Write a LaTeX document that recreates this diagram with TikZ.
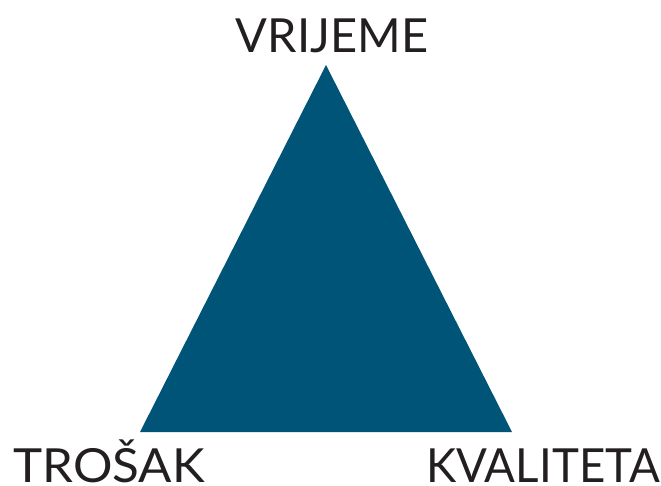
\documentclass[tikz,border=0pt]{standalone}
\usepackage{fontspec}
\setmainfont{Lato}
\definecolor{tri}{RGB}{0,84,120}
\definecolor{txt}{RGB}{35,31,32}
\begin{document}
\begin{tikzpicture}[x=1pt,y=-1pt,
  lbl/.style={font=\fontsize{47}{50}\selectfont, text=txt, inner sep=0pt, text depth=0pt}]
\useasboundingbox (0,0) rectangle (661,485);
\fill[tri] (326,65) coordinate (apex) -- (512,432) coordinate (br) -- (140,432) coordinate (bl) -- cycle;
\node[lbl, anchor=base] (top) at (332,52) {VRIJEME};
\node[lbl, anchor=base west, xscale=1.05] (left) at (13,482) {TROŠAK};
\node[lbl, anchor=base east, xscale=0.97] (right) at (660,482) {KVALITETA};
\end{tikzpicture}
\end{document}
